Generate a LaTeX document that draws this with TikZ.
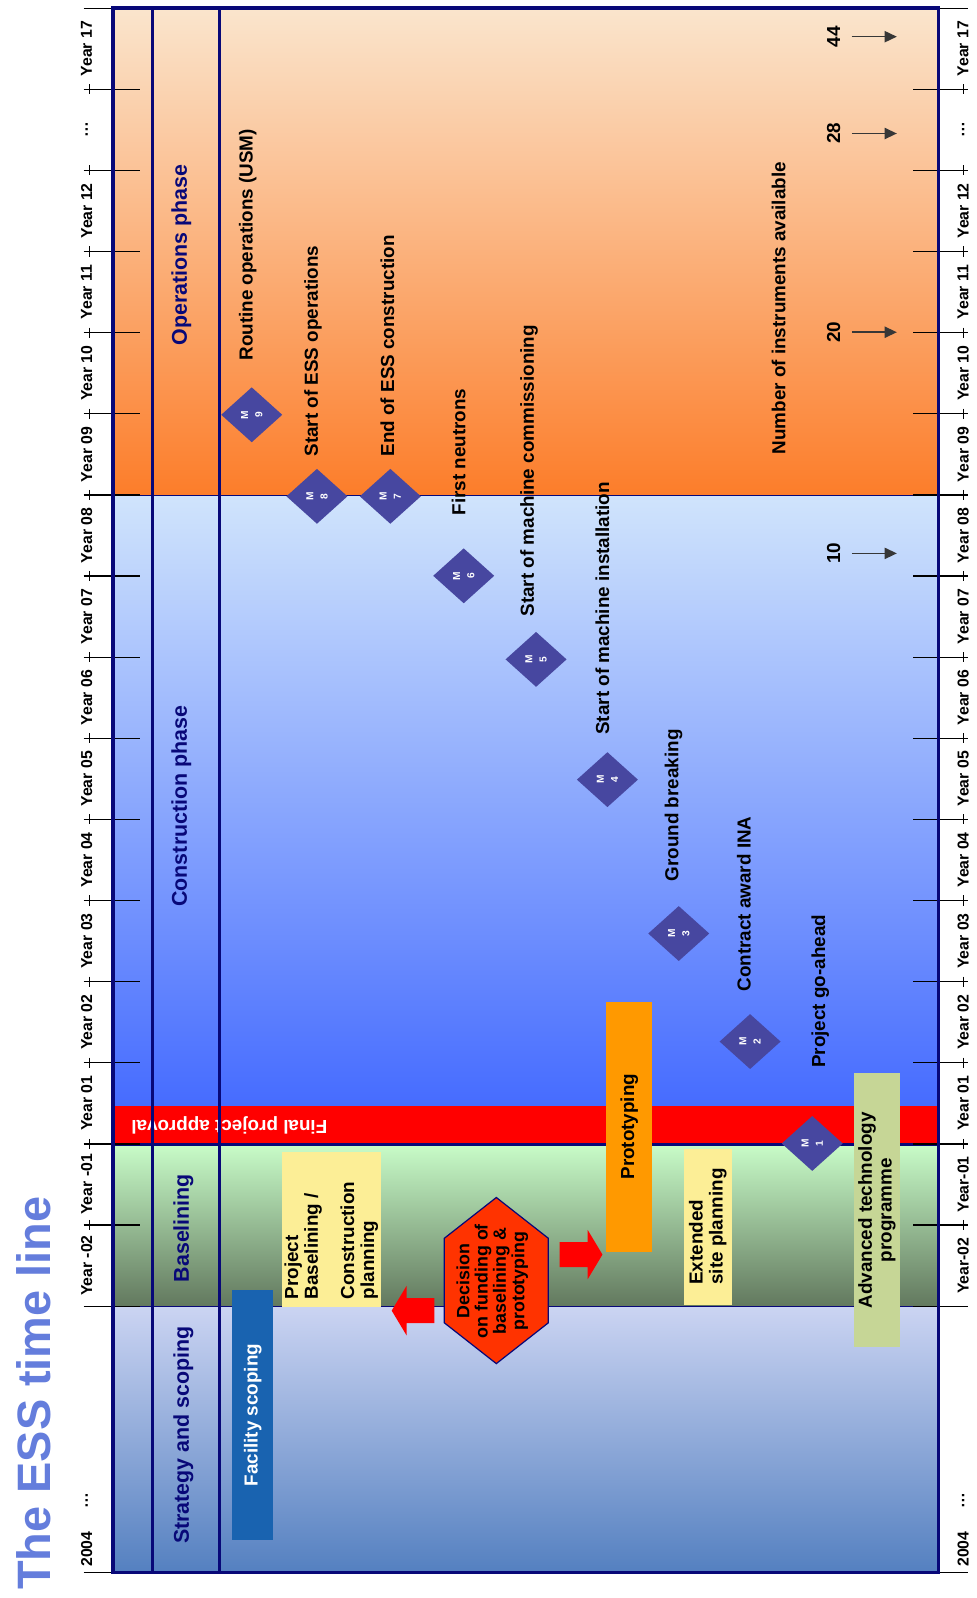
\documentclass[tikz,border=0pt]{standalone}
\usepackage{fontspec}
\setmainfont{Liberation Sans}
\usetikzlibrary{arrows.meta}
\usetikzlibrary{shapes.geometric,shapes.arrows}

\definecolor{navyline}{RGB}{8,8,120}
\definecolor{titleblue}{RGB}{100,125,220}
\definecolor{opstop}{RGB}{250,229,205}
\definecolor{opsbot}{RGB}{252,125,42}
\definecolor{contop}{RGB}{208,228,252}
\definecolor{conmid}{RGB}{158,185,255}
\definecolor{conbot}{RGB}{61,100,255}
\definecolor{baltop}{RGB}{200,252,200}
\definecolor{balbot}{RGB}{98,120,94}
\definecolor{strtop}{RGB}{203,212,242}
\definecolor{strbot}{RGB}{84,128,192}
\definecolor{milestonefill}{RGB}{71,71,160}
\definecolor{scopeblue}{RGB}{25,99,176}
\definecolor{paleyellow}{RGB}{252,238,150}
\definecolor{protoorange}{RGB}{255,153,0}
\definecolor{advgreen}{RGB}{198,214,150}
\definecolor{decisionred}{RGB}{255,51,0}
\definecolor{arrowgrey}{RGB}{55,55,55}

\begin{document}
\begin{tikzpicture}[x=1pt,y=-1pt,
    yearlabel/.style={rotate=90,inner sep=0pt,font=\bfseries\fontsize{15.5}{16}\selectfont},
    phaselabel/.style={rotate=90,inner sep=0pt,text=navyline,font=\bfseries\fontsize{21}{22}\selectfont},
    eventlabel/.style={rotate=90,anchor=west,inner sep=0pt,font=\bfseries\fontsize{18.5}{19.5}\selectfont},
    milestone/.style={diamond,rotate=90,fill=milestonefill,text=white,inner sep=0pt,
        minimum width=54pt,minimum height=60pt,align=center,font=\bfseries\fontsize{10}{14}\selectfont},
    taskbox/.style={rotate=90,inner sep=0pt,align=center,font=\bfseries\fontsize{18.5}{19.5}\selectfont},
    blockarrow/.style={single arrow,fill=red,inner sep=12pt,minimum height=42pt,
        single arrow head extend=12pt,single arrow tip angle=118},
    countlabel/.style={rotate=90,inner sep=0pt,font=\bfseries\fontsize{18.5}{19.5}\selectfont},
    countarrow/.style={arrowgrey,line width=1.5pt,-{Triangle[length=12pt,width=11pt]}},
    yeartick/.style={black,line width=1.2pt}
  ]

    \useasboundingbox (0,0) rectangle (958,1568);

    % title
    \node[rotate=90,inner sep=0pt,text=titleblue,font=\bfseries\fontsize{46}{48}\selectfont] (title) at (33,1367) {The ESS time line};

    % phase backgrounds
    \shade[top color=opstop,bottom color=opsbot] (111,8) rectangle (921,486);
    \shade[top color=contop,middle color=conmid,bottom color=conbot] (111,486) rectangle (921,1123);
    \shade[top color=baltop,bottom color=balbot] (111,1123) rectangle (921,1282);
    \shade[top color=strtop,bottom color=strbot] (111,1282) rectangle (921,1543);

    % final approval bar
    \fill[red] (111,1085) rectangle (921,1123);
    \node[rotate=180,inner sep=0pt,text=white,font=\bfseries\fontsize{18.5}{19.5}\selectfont] (approval) at (225,1104) {Final project approval};

    % phase borders and lanes
    \draw[navyline,line width=1.5pt] (111,486) -- (921,486);
    \draw[navyline,line width=2pt] (111,1123) -- (921,1123);
    \draw[navyline,line width=1.5pt] (111,1282) -- (921,1282);
    \draw[navyline,line width=3pt] (150,8) -- (150,1543);
    \draw[navyline,line width=3pt] (215,8) -- (215,1543);

    % year ticks
    \foreach \k in {0,...,16}{
        \draw[yeartick] (82,{8+79.6*\k}) -- (137,{8+79.6*\k});
        \draw[yeartick] (896,{8+79.6*\k}) -- (950,{8+79.6*\k});
    }
    \draw[yeartick] (82,1543) -- (137,1543);
    \draw[yeartick] (896,1543) -- (950,1543);
    \foreach \k in {1,...,15}{
        \draw[black,line width=0.7pt] (88,{3+79.6*\k}) -- (88,{13+79.6*\k});
        \draw[black,line width=0.7pt] (945,{3+79.6*\k}) -- (945,{13+79.6*\k});
    }

    % year labels
    \foreach \lab [count=\k from 0] in {Year 17,…,Year 12,Year 11,Year 10,Year 09,Year 08,Year 07,Year 06,Year 05,Year 04,Year 03,Year 02,Year 01,Year -01,Year -02}
        \node[yearlabel] (left\k) at (85,{47.8+79.6*\k}) {\lab};
    \foreach \lab [count=\k from 0] in {Year 17,…,Year 12,Year 11,Year 10,Year 09,Year 08,Year 07,Year 06,Year 05,Year 04,Year 03,Year 02,Year 01,Year-01,Year-02}
        \node[yearlabel] (right\k) at (945,{47.8+79.6*\k}) {\lab};
    \node[yearlabel] (leftdots) at (85,1472) {…};
    \node[yearlabel] (leftstart) at (85,1520) {2004};
    \node[yearlabel] (rightdots) at (945,1472) {…};
    \node[yearlabel] (rightstart) at (945,1520) {2004};

    % phase names
    \node[phaselabel] (operations) at (178,250) {Operations phase};
    \node[phaselabel] (construction) at (178,791) {Construction phase};
    \node[phaselabel] (baselining) at (180,1205) {Baselining};
    \node[phaselabel] (strategy) at (180,1408) {Strategy and scoping};

    % activities
    \node[taskbox,fill=scopeblue,text=white,minimum width=245pt,minimum height=40pt] (scoping) at (248,1388.5) {Facility scoping};
    \node[taskbox,fill=paleyellow,minimum width=152pt,minimum height=97pt] (projbox) at (325.5,1206) {};
    \node[taskbox,anchor=west,align=left] (projtext) at (325,1275) {Project\\Baselining /\\[16pt]Construction\\planning};
    \node[taskbox,fill=protoorange,minimum width=245pt,minimum height=45pt] (proto) at (617.5,1105.5) {Prototyping};
    \node[taskbox,fill=paleyellow,align=left,minimum width=153pt,minimum height=47pt] (siteplan) at (694.5,1203.5) {Extended\\site planning};
    \node[taskbox,fill=advgreen,minimum width=269pt,minimum height=45pt] (advtech) at (860.5,1187.5) {Advanced technology\\programme};

    % decision
    \draw[navyline,fill=decisionred,line width=1.2pt] (487,1175) -- (538,1215) -- (538,1298) -- (487,1338) -- (436,1298) -- (436,1215) -- cycle;
    \node[rotate=90,inner sep=0pt,align=center,font=\bfseries\fontsize{17.5}{18}\selectfont] (decision) at (483,1257) {Decision\\on funding of\\baselining \&\\prototyping};
    \node[blockarrow,shape border rotate=180] (arrowleft) at (409,1286) {};
    \node[blockarrow] (arrowright) at (566.5,1231) {};

    % milestones
    \foreach \n/\x/\y in {1/797/1122,2/736/1022,3/666/916,4/596/765,5/526/647,6/455/565,7/383/487,8/311/487,9/247/407}
        \node[milestone] (m\n) at (\x,\y) {M\\\n};

    \node[eventlabel] (routine) at (243,354) {Routine operations (USM)};
    \node[eventlabel] (essstart) at (307,448) {Start of ESS operations};
    \node[eventlabel] (essend) at (380,448) {End of ESS construction};
    \node[eventlabel] (neutrons) at (450,506) {First neutrons};
    \node[eventlabel] (commission) at (519,605) {Start of machine commissioning};
    \node[eventlabel] (install) at (591,721) {Start of machine installation};
    \node[eventlabel] (ground) at (661,865) {Ground breaking};
    \node[eventlabel] (contract) at (730,973) {Contract award INA};
    \node[eventlabel] (goahead) at (805,1048) {Project go-ahead};

    % instruments
    \node[eventlabel] (instruments) at (764,446) {Number of instruments available};
    \foreach \num/\y in {44/36,28/131,20/326,10/543}{
        \node[countlabel] (n\num) at (818,\y) {\num};
        \coordinate (t\num) at (880,\y);
        \draw[countarrow] ([xshift=11pt]n\num.south) -- (t\num);
    }

    % frame
    \draw[navyline,line width=3.5pt] (111,8) rectangle (921,1543);

\end{tikzpicture}
\end{document}
